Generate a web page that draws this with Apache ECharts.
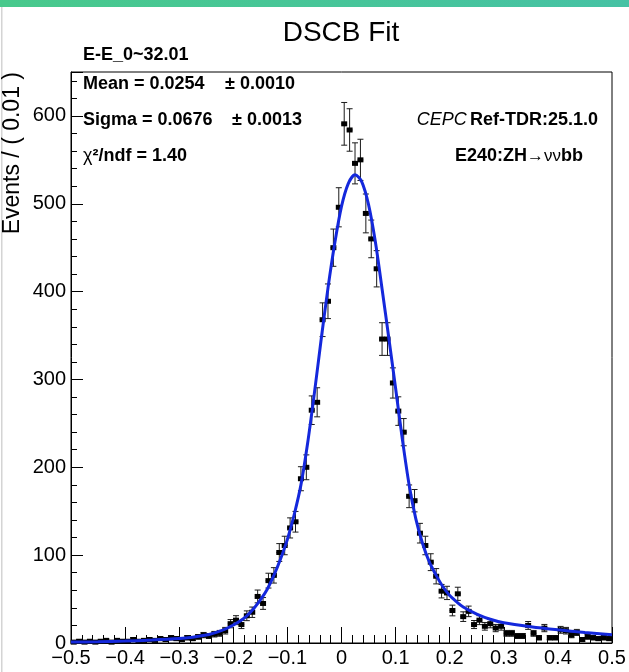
<!DOCTYPE html>
<html><head><meta charset="utf-8">
<script src="https://cdn.jsdelivr.net/npm/echarts@6/dist/echarts.min.js"></script>
<style>html,body{margin:0;padding:0;background:#fff;}#c{width:629px;height:672px;}</style>
</head><body><div id="c"></div>
<script>
// Histogram: 100 bins of width 0.01 from -0.5 to 0.5
const xMin = -0.5, xMax = 0.5, binWidth = 0.01;
const countsLeftTail = [1,2,1,2,1,2,3,1,3,2,2,4,2,3,4,3,5,4,6,5];               // -0.495 .. -0.305
const countsRise = [4,6,5,7,9,8,10,11,14,22,26,21,31,35,53,45,71,77,103,111,131,138,187,200,265,274,368,389,450,496]; // -0.295 .. -0.005
const countsFall = [591,584,546,550,489,460,426,346,346,296,264,240,167,162,125,111,92,76,59,57,37,56,30,36,21,26,19,22,17,19,11,11,8,8,20,11,6,17,6,6,15,14,9,12,4,7,6,5,6,5]; // 0.005 .. 0.495
// DSCB fit curve
const fitX = [-0.5,-0.45,-0.4,-0.35,-0.3,-0.275,-0.25,-0.2375,-0.225,-0.2125,-0.2,-0.1875,-0.175,-0.1625,-0.15,-0.1375,-0.125,-0.1125,-0.1,-0.0875,-0.075,-0.0625,-0.05,-0.0375,-0.025,-0.0125,0,0.0125,0.025,0.0375,0.05,0.0625,0.075,0.0875,0.1,0.1125,0.125,0.1375,0.15,0.1625,0.175,0.1875,0.2,0.2125,0.225,0.25,0.275,0.3,0.35,0.4,0.45,0.5];
const fitY = [1.0,1.5,2.2,3.3,5.0,6.6,9.0,11,13.5,16.5,20.5,25,31,39,49,61,77,96,118,146,180,228,285,346,404,455,497,523,533,525,499,457,403,347,290,232,180,141,113,92,77,64,54,47,41,33,27,23,18.5,15,12,9.5];
const xTickValues = [-0.5,-0.4,-0.3,-0.2,-0.1,0,0.1,0.2,0.3,0.4,0.5];
const xTickLabels = ['\u22120.5','\u22120.4','\u22120.3','\u22120.2','\u22120.1','0','0.1','0.2','0.3','0.4','0.5'];
const yTickValues = [0,100,200,300,400,500,600];
const yTickLabels = ['0','100','200','300','400','500','600'];

const counts = countsLeftTail.concat(countsRise, countsFall);
const histData = counts.map((c, i) => [xMin + binWidth * (i + 0.5), c]);
const fitData = fitX.map((x, i) => [x, fitY[i]]);
const FONT = '"Liberation Sans", Arial, Helvetica, sans-serif';

function lookup(vals, labels, v) {
  for (let i = 0; i < vals.length; i++) if (Math.abs(vals[i] - v) < 1e-6) return labels[i];
  return '';
}

const chart = echarts.init(document.getElementById('c'));
chart.setOption({
  animation: false,
  backgroundColor: '#fff',
  grid: { left: 71, right: 17, top: 72, bottom: 29, show: true, borderColor: '#000', borderWidth: 1, backgroundColor: 'transparent' },
  xAxis: {
    type: 'value', min: xMin, max: xMax, interval: 0.1,
    axisLine: { show: true, onZero: false, lineStyle: { color: '#000', width: 1 } },
    axisTick: { show: true, inside: true, length: 16, lineStyle: { color: '#000', width: 1 } },
    minorTick: { show: true, splitNumber: 5, length: 8, lineStyle: { color: '#000', width: 1 } },
    splitLine: { show: false },
    axisLabel: { color: '#000', fontSize: 20, fontFamily: FONT, margin: 5,
      formatter: v => lookup(xTickValues, xTickLabels, v) }
  },
  yAxis: {
    type: 'value', min: 0, max: 650, interval: 100,
    axisLine: { show: true, onZero: false, lineStyle: { color: '#000', width: 1 } },
    axisTick: { show: true, inside: true, length: 12, lineStyle: { color: '#000', width: 1 } },
    minorTick: { show: true, splitNumber: 5, length: 6, lineStyle: { color: '#000', width: 1 } },
    splitLine: { show: false },
    axisLabel: { color: '#000', fontSize: 20, fontFamily: FONT, margin: 5, showMaxLabel: false,
      formatter: v => lookup(yTickValues, yTickLabels, v) }
  },
  series: [
    {
      type: 'custom', data: histData, z: 2, clip: false,
      renderItem: function (params, api) {
        const x = api.value(0), y = api.value(1), e = Math.sqrt(y);
        const p = api.coord([x, y]);
        const top = api.coord([x, y + e])[1];
        const bot = api.coord([x, Math.max(0, y - e)])[1];
        const hw = api.size([binWidth, 0])[0] / 2;
        const st = { stroke: '#1a1a1a', lineWidth: 1 };
        return { type: 'group', children: [
          { type: 'line', shape: { x1: p[0], y1: top, x2: p[0], y2: bot }, style: st },
          { type: 'line', shape: { x1: p[0] - 3, y1: top, x2: p[0] + 3, y2: top }, style: st },
          { type: 'line', shape: { x1: p[0] - 3, y1: bot, x2: p[0] + 3, y2: bot }, style: st },
          { type: 'line', shape: { x1: p[0] - hw, y1: p[1], x2: p[0] + hw, y2: p[1] }, style: { stroke: '#000', lineWidth: 1.2 } },
          { type: 'rect', shape: { x: p[0] - 3, y: p[1] - 2.5, width: 6, height: 5 }, style: { fill: '#000' } }
        ]};
      }
    },
    {
      type: 'line', data: fitData, z: 3, smooth: 0.3, showSymbol: false,
      lineStyle: { color: '#1428dc', width: 3 }
    }
  ],
  graphic: [
    { type: 'rect', shape: { x: 0, y: 0, width: 629, height: 7 }, style: { fill: new echarts.graphic.LinearGradient(0, 0, 1, 0, [{ offset: 0, color: '#48c98c' }, { offset: 1, color: '#46c2a4' }]) } },
    { type: 'rect', shape: { x: 1, y: 7, width: 1.5, height: 665 }, style: { fill: '#d4d4d4' } },
    { type: 'text', x: 341, y: 33, style: { text: 'DSCB Fit', font: '28px ' + FONT, fill: '#000', align: 'center', verticalAlign: 'middle' } },
    { type: 'text', x: 83, y: 55, style: { text: 'E-E_0~32.01', font: 'bold 18px ' + FONT, fill: '#000', align: 'left', verticalAlign: 'middle' } },
    { type: 'text', x: 83, y: 84, style: { text: 'Mean = 0.0254', font: 'bold 18px ' + FONT, fill: '#000', align: 'left', verticalAlign: 'middle' } },
    { type: 'text', x: 225, y: 84, style: { text: '\u00b1 0.0010', font: 'bold 18px ' + FONT, fill: '#000', align: 'left', verticalAlign: 'middle' } },
    { type: 'text', x: 83, y: 120, style: { text: 'Sigma = 0.0676', font: 'bold 18px ' + FONT, fill: '#000', align: 'left', verticalAlign: 'middle' } },
    { type: 'text', x: 232, y: 120, style: { text: '\u00b1 0.0013', font: 'bold 18px ' + FONT, fill: '#000', align: 'left', verticalAlign: 'middle' } },
    { type: 'text', x: 83, y: 156, style: { text: '{n|\u03c7}{b|\u00b2/ndf = 1.40}', align: 'left', verticalAlign: 'middle',
      rich: { n: { font: '18px ' + FONT, fill: '#000' }, b: { font: 'bold 18px ' + FONT, fill: '#000' } } } },
    { type: 'text', x: 598, y: 120, style: { text: '{i|CEPC} {b|Ref-TDR:25.1.0}', align: 'right', verticalAlign: 'middle',
      rich: { i: { font: 'italic 18px ' + FONT, fill: '#000' }, b: { font: 'bold 18px ' + FONT, fill: '#000' } } } },
    { type: 'text', x: 583, y: 156, style: { text: '{b|E240:ZH}{n|\u2192\u03bd\u03bd}{b|bb}', align: 'right', verticalAlign: 'middle',
      rich: { n: { font: '17px ' + FONT, fill: '#000' }, b: { font: 'bold 18px ' + FONT, fill: '#000' } } } },
    { type: 'text', x: 13, y: 72, rotation: Math.PI / 2, style: { text: 'Events / ( 0.01 )', font: '23px ' + FONT, fill: '#000', align: 'right', verticalAlign: 'middle' } }
  ]
});
</script></body></html>
